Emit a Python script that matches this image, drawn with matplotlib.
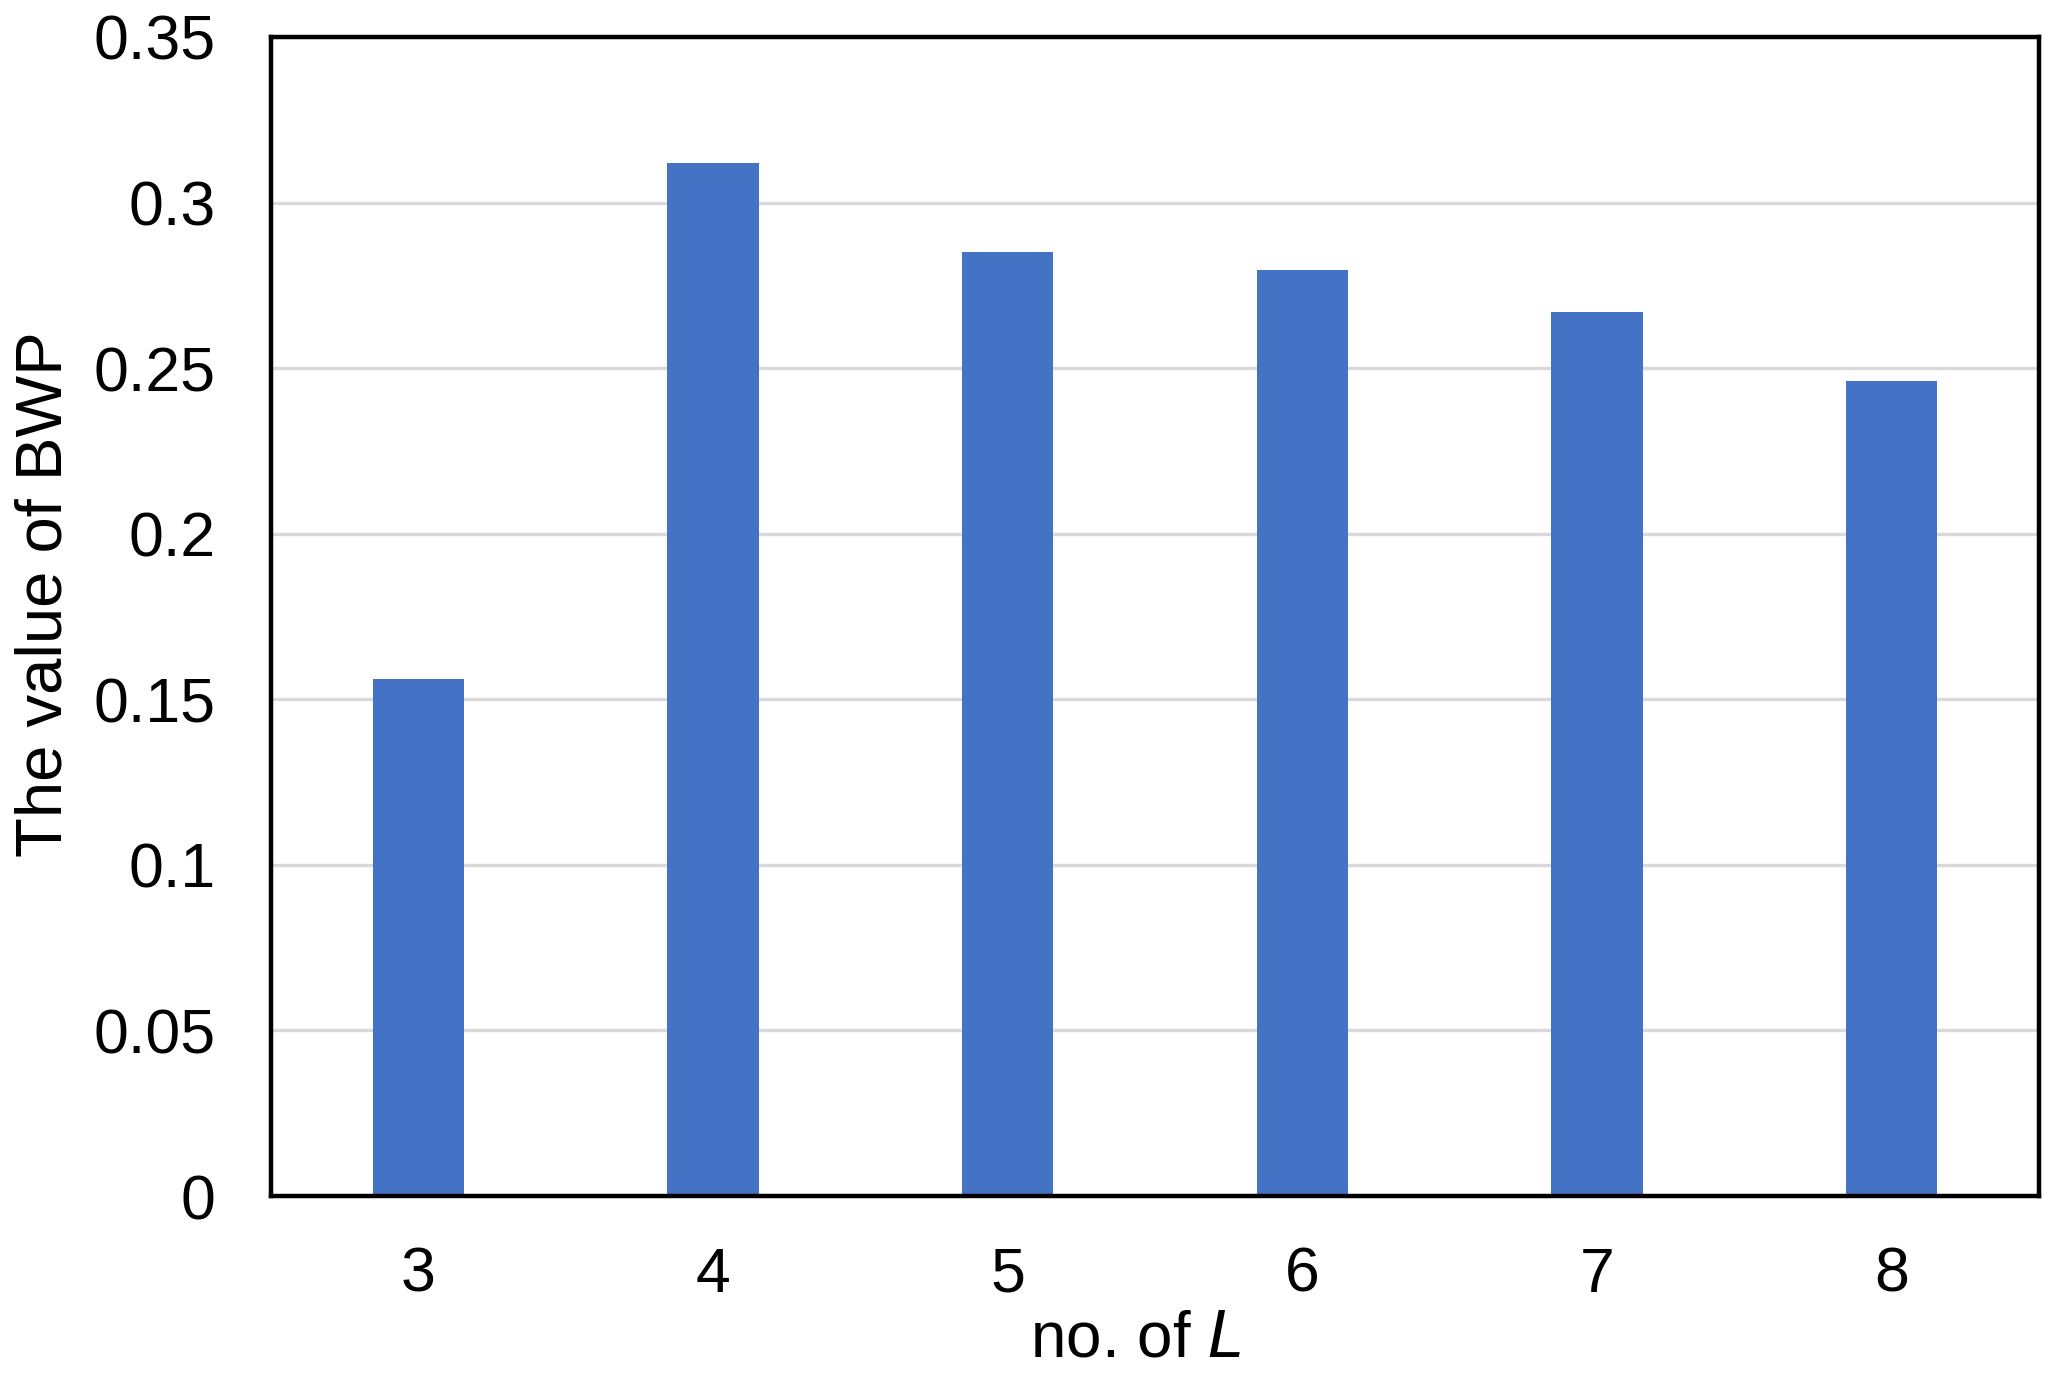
import numpy as np
import matplotlib.pyplot as plt

plt.rcParams['font.family'] = ['Liberation Sans', 'DejaVu Sans']

# data
categories = ['3', '4', '5', '6', '7', '8']
bwp_values = [0.156, 0.312, 0.285, 0.2795, 0.267, 0.246]
y_ticks = [0, 0.05, 0.1, 0.15, 0.2, 0.25, 0.3, 0.35]
y_tick_labels = ['0', '0.05', '0.1', '0.15', '0.2', '0.25', '0.3', '0.35']

fig = plt.figure(figsize=(20.52, 13.82), dpi=100)
ax = fig.add_axes([271 / 2052, 1 - 1196 / 1382, (2039 - 271) / 2052, (1196 - 37) / 1382])

x = np.arange(len(categories))
ax.bar(x, bwp_values, width=0.31, color='#4472C4', zorder=3)

ax.set_xlim(-0.5, len(categories) - 0.5)
ax.set_ylim(0, 0.35)
ax.set_xticks(x)
ax.set_xticklabels(categories)
ax.set_yticks(y_ticks)
ax.set_yticklabels(y_tick_labels)
ax.tick_params(axis='both', length=0, labelsize=45)
ax.tick_params(axis='x', pad=36)
ax.tick_params(axis='y', pad=40)

ax.yaxis.grid(True, color='#D9D9D9', linewidth=2.4, zorder=0)
ax.set_axisbelow(True)

for sp in ax.spines.values():
    sp.set_linewidth(3.2)
    sp.set_color('black')
    sp.set_zorder(4)

ax.set_xlabel('no. of $\\mathit{L}$', fontsize=46, labelpad=4)
ax.xaxis.set_label_coords(0.489, -0.098)
ax.set_ylabel('The value of BWP', fontsize=47)
ax.yaxis.set_label_coords(-0.111, 0.519)

fig.savefig('out.png', dpi=100)
